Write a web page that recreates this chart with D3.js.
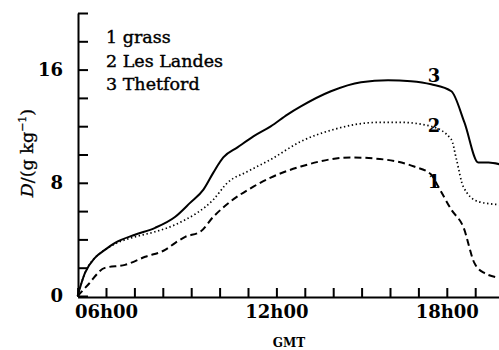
<!DOCTYPE html>
<html>
<head>
<meta charset="utf-8">
<script src="https://cdn.jsdelivr.net/npm/d3@7"></script>
<style>
  body { margin: 0; background: #fff; }
  svg { display: block; font-family: "DejaVu Serif", serif; }
</style>
</head>
<body>
<div id="chart"></div>
<script>
// hours GMT and specific humidity deficit D (g/kg)
const grassHours = [5.0, 5.36, 5.96, 6.67, 7.38, 8.08, 8.44, 8.79, 9.32, 9.78, 10.38, 11.19, 11.8, 12.86, 14.62, 15.79, 16.85, 17.45, 17.7, 18.16, 18.58, 18.97, 19.32, 19.9];
const grassD     = [0, 0.78, 1.99, 2.2, 2.77, 3.26, 3.76, 4.18, 4.54, 5.6, 6.67, 7.73, 8.37, 9.15, 9.79, 9.65, 9.15, 8.58, 7.73, 6.1, 4.89, 2.34, 1.63, 1.28];

const landesHours = [5.0, 5.26, 5.61, 5.96, 6.32, 7.02, 7.73, 8.44, 8.79, 9.22, 9.78, 10.28, 10.98, 11.8, 12.86, 14.02, 15.58, 16.39, 17.45, 18.16, 18.34, 18.58, 19.11, 19.9];
const landesD     = [0, 1.63, 2.7, 3.26, 3.69, 4.18, 4.54, 5.04, 5.39, 5.89, 6.81, 8.01, 8.79, 9.65, 10.92, 11.77, 12.27, 12.27, 11.99, 11.06, 9.65, 7.73, 6.67, 6.45];

const thetfordHours = [5.0, 5.26, 5.61, 5.96, 6.32, 7.02, 7.73, 8.44, 8.97, 9.43, 9.78, 10.13, 10.63, 11.19, 11.8, 12.4, 12.86, 13.92, 14.98, 15.93, 16.74, 17.45, 18.16, 18.62, 19.11, 19.47, 19.9];
const thetfordD     = [0, 1.63, 2.7, 3.26, 3.76, 4.33, 4.82, 5.6, 6.6, 7.52, 8.72, 9.79, 10.5, 11.28, 11.99, 12.84, 13.4, 14.47, 15.11, 15.25, 15.18, 14.96, 14.47, 12.27, 9.43, 9.43, 9.29];

const legendLabels = ["1 grass", "2 Les Landes", "3 Thetford"];
const curveNames = ["1", "2", "3"];
const yTickLabels = [0, 8, 16];
const xTickLabels = { 6: "06h00", 12: "12h00", 18: "18h00" };

const width = 499, height = 350;
const svg = d3.select("#chart").append("svg")
  .attr("width", width).attr("height", height);

const x = d3.scaleLinear().domain([5, 20]).range([77.6, 503.6]);
const y = d3.scaleLinear().domain([0, 20]).range([296, 13]);

// y axis, ticks pointing inward
svg.append("g")
  .attr("transform", "translate(78,0)")
  .call(d3.axisLeft(y).tickValues(d3.range(0, 21, 2)).tickSizeInner(-10).tickSizeOuter(0).tickPadding(15)
    .tickFormat(d => yTickLabels.includes(d) ? d : ""))
  .call(g => g.select(".domain").attr("stroke-width", 2))
  .call(g => g.selectAll(".tick line").attr("stroke-width", 2))
  .call(g => g.selectAll("text").attr("font-size", 18).attr("font-weight", "bold")
    .attr("font-family", "DejaVu Serif").attr("fill", "#000"));

// x axis
svg.append("g")
  .attr("transform", "translate(0,297)")
  .call(d3.axisBottom(x).tickValues(d3.range(5, 21, 1)).tickSizeInner(-9).tickSizeOuter(0).tickPadding(8)
    .tickFormat(d => xTickLabels[d] || ""))
  .call(g => g.select(".domain").attr("stroke-width", 2))
  .call(g => g.selectAll(".tick line").attr("stroke-width", 2))
  .call(g => g.selectAll("text").attr("font-size", 18).attr("font-weight", "bold")
    .attr("font-family", "DejaVu Serif").attr("fill", "#000"));

const line = d3.line().x(d => x(d[0])).y(d => y(d[1])).curve(d3.curveMonotoneX);

const series = [
  { hours: grassHours, vals: grassD, dash: "7,4", w: 2 },
  { hours: landesHours, vals: landesD, dash: "1.4,2.6", w: 1.7 },
  { hours: thetfordHours, vals: thetfordD, dash: null, w: 2 }
];

series.forEach(s => {
  svg.append("path")
    .datum(d3.zip(s.hours, s.vals))
    .attr("fill", "none")
    .attr("stroke", "#000")
    .attr("stroke-width", s.w)
    .attr("stroke-dasharray", s.dash)
    .attr("d", line);
});

// curve numbers
const curveLabelPos = [[17.55, 7.6], [17.55, 11.6], [17.55, 15.1]];
svg.append("g").selectAll("text")
  .data(curveNames)
  .join("text")
  .attr("x", (d, i) => x(curveLabelPos[i][0]))
  .attr("y", (d, i) => y(curveLabelPos[i][1]))
  .attr("text-anchor", "middle")
  .attr("font-size", 18).attr("font-weight", "bold")
  .text(d => d);

// legend
svg.append("g").selectAll("text")
  .data(legendLabels)
  .join("text")
  .attr("x", 106)
  .attr("y", (d, i) => 43 + i * 23.5)
  .attr("font-size", 17.5)
  .attr("stroke", "#000").attr("stroke-width", 0.4)
  .text(d => d);

// axis titles
svg.append("text")
  .attr("x", 289).attr("y", 347)
  .attr("text-anchor", "middle")
  .attr("font-size", 12).attr("font-weight", "bold")
  .text("GMT");

const yt = svg.append("text")
  .attr("transform", "translate(33,153) rotate(-90)")
  .attr("text-anchor", "middle")
  .attr("font-size", 17.5)
  .attr("stroke", "#000").attr("stroke-width", 0.3);
yt.append("tspan").attr("font-style", "italic").text("D");
yt.append("tspan").text("/(g kg");
yt.append("tspan").attr("font-size", 11).attr("dy", -7).text("−1");
yt.append("tspan").attr("dy", 7).text(")");
</script>
</body>
</html>
